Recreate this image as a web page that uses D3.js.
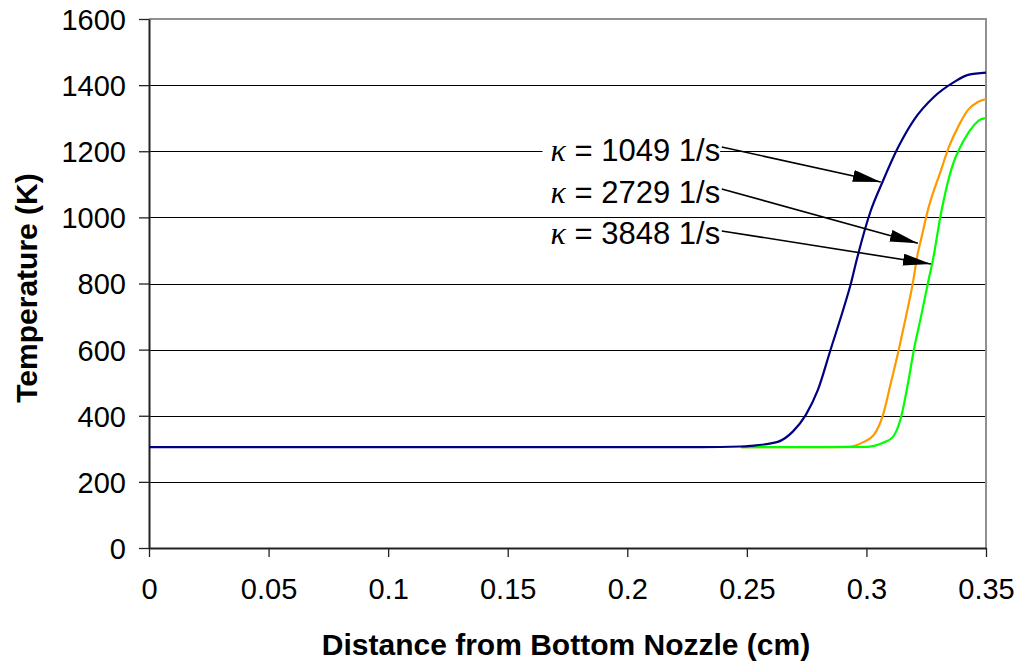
<!DOCTYPE html>
<html>
<head>
<meta charset="utf-8">
<script src="https://cdn.jsdelivr.net/npm/d3@7"></script>
<style>
  body { margin: 0; background: #fff; }
  svg { display: block; font-family: Arial, "Liberation Sans", sans-serif; }
</style>
</head>
<body>
<div id="chart"></div>
<script>
// distance (cm) and temperature (K)
const blueX = [0, 0.1, 0.2, 0.2307, 0.2474, 0.2516, 0.2629, 0.2692, 0.2746, 0.2797, 0.2851, 0.2905, 0.2935, 0.2956, 0.3018, 0.3069, 0.3132, 0.3199, 0.3282, 0.3366, 0.3425, 0.35];
const blueT = [305, 305, 305, 305, 307, 309, 321, 352, 402, 478, 602, 726, 800, 862, 1020, 1110, 1211, 1295, 1364, 1409, 1431, 1438];

const orangeX = [0.2475, 0.28, 0.2922, 0.2989, 0.3031, 0.3069, 0.3102, 0.3136, 0.3165, 0.3194, 0.3215, 0.3228, 0.3257, 0.3312, 0.3345, 0.3387, 0.3425, 0.3466, 0.35];
const orangeT = [305, 305, 306, 321, 342, 402, 499, 602, 699, 801, 892, 932, 1022, 1143, 1213, 1279, 1325, 1349, 1358];

const greenX = [0.2475, 0.28, 0.3006, 0.3069, 0.3111, 0.3145, 0.3174, 0.3199, 0.3228, 0.3257, 0.3278, 0.3312, 0.3354, 0.3408, 0.345, 0.3479, 0.35];
const greenT = [305, 305, 306, 318, 336, 396, 499, 602, 699, 801, 871, 1013, 1143, 1234, 1279, 1297, 1300];

const xTicks = [0, 0.05, 0.1, 0.15, 0.2, 0.25, 0.3, 0.35];
const yTicks = [0, 200, 400, 600, 800, 1000, 1200, 1400, 1600];

// annotation labels: kappa values, arrow tail and head in data units
const kappaLabels = ['1049', '2729', '3848'];
const arrowFrom = [[0.2395, 1213], [0.2395, 1086], [0.2395, 959]];
const arrowTo = [[0.3060, 1107], [0.3215, 922], [0.3270, 859]];

const width = 1022, height = 666;
const margin = {top: 19, right: 36, bottom: 118, left: 149};
const w = width - margin.left - margin.right;
const h = height - margin.top - margin.bottom;

const svg = d3.select('#chart').append('svg')
  .attr('width', width)
  .attr('height', height);

svg.append('defs').append('marker')
  .attr('id', 'arrow')
  .attr('viewBox', '0 0 28 12')
  .attr('refX', 28)
  .attr('refY', 6)
  .attr('markerWidth', 28)
  .attr('markerHeight', 12)
  .attr('markerUnits', 'userSpaceOnUse')
  .attr('orient', 'auto')
  .append('path')
  .attr('d', 'M0,0 L28,6 L0,12 Z')
  .attr('fill', '#000');

const g = svg.append('g')
  .attr('transform', 'translate(' + margin.left + ',' + margin.top + ')');

const x = d3.scaleLinear().domain([0, 0.35]).range([0, w]);
const y = d3.scaleLinear().domain([0, 1600]).range([h, 0]);

// gridlines
g.append('g')
  .selectAll('line')
  .data(yTicks.filter(d => d > 0 && d < 1600))
  .enter()
  .append('line')
  .attr('x1', 0)
  .attr('x2', w)
  .attr('y1', d => Math.round(y(d)) + 0.5)
  .attr('y2', d => Math.round(y(d)) + 0.5)
  .style('stroke', '#000')
  .style('stroke-width', 1);

// top and right border of the plot area
g.append('path')
  .attr('d', 'M0,' + y(1600) + 'H' + w + 'V' + h)
  .style('fill', 'none')
  .style('stroke', '#909090')
  .style('stroke-width', 2);

// x axis
const xAxis = d3.axisBottom(x)
  .tickValues(xTicks)
  .tickFormat(d => String(+d.toFixed(2)))
  .tickSize(9)
  .tickSizeOuter(0)
  .tickPadding(21);

g.append('g')
  .attr('class', 'x axis')
  .attr('transform', 'translate(0,' + h + ')')
  .call(xAxis);

// y axis
const yAxis = d3.axisLeft(y)
  .tickValues(yTicks)
  .tickFormat(d3.format('d'))
  .tickSize(10)
  .tickSizeOuter(0)
  .tickPadding(13);

g.append('g')
  .attr('class', 'y axis')
  .call(yAxis);

g.selectAll('.axis .domain')
  .style('stroke', '#222')
  .style('stroke-width', 2);
g.selectAll('.axis .tick line')
  .style('stroke', '#222')
  .style('stroke-width', 1.3);
g.selectAll('.axis text')
  .style('font-size', '29px')
  .style('fill', '#000');
g.selectAll('.y.axis text').attr('dy', '0.36em');

// series lines
const series = [
  {xs: orangeX, ts: orangeT, color: '#FF9900'},
  {xs: greenX, ts: greenT, color: '#00FF00'},
  {xs: blueX, ts: blueT, color: '#000080'}
];

const lineBuilder = d3.line()
  .x(d => x(d[0]))
  .y(d => y(d[1]))
  .curve(d3.curveMonotoneX);

series.forEach(s => {
  g.append('path')
    .attr('d', lineBuilder(s.xs.map((v, i) => [v, s.ts[i]])))
    .style('fill', 'none')
    .style('stroke', s.color)
    .style('stroke-width', 2.2);
});

// annotation labels with white boxes
const labelX = 0.1679;
const labelBase = [1170, 1044, 918];

kappaLabels.forEach((k, i) => {
  const t = g.append('text')
    .attr('x', x(labelX))
    .attr('y', y(labelBase[i]))
    .style('font-size', '31px');
  t.append('tspan')
    .style('font-family', '"Liberation Serif", "Times New Roman", serif')
    .style('font-style', 'italic')
    .style('font-size', '32px')
    .text('\u03BA');
  t.append('tspan').text(' = ' + k + ' 1/s');
  const bb = t.node().getBBox();
  g.insert('rect', function() { return t.node(); })
    .attr('x', bb.x - 8)
    .attr('y', bb.y + 3)
    .attr('width', bb.width + 8 + (i === 2 ? 16 : 0))
    .attr('height', bb.height - 6)
    .style('fill', '#fff');
});

// arrows
arrowFrom.forEach((a, i) => {
  g.append('line')
    .attr('x1', x(a[0]))
    .attr('y1', y(a[1]))
    .attr('x2', x(arrowTo[i][0]))
    .attr('y2', y(arrowTo[i][1]))
    .style('stroke', '#000')
    .style('stroke-width', 1.6)
    .attr('marker-end', 'url(#arrow)');
});

// axis titles
svg.append('text')
  .attr('x', 566)
  .attr('y', 655)
  .style('text-anchor', 'middle')
  .style('font-size', '30px')
  .style('font-weight', 'bold')
  .text('Distance from Bottom Nozzle (cm)');

svg.append('text')
  .attr('transform', 'translate(37,288) rotate(-90)')
  .style('text-anchor', 'middle')
  .style('font-size', '30px')
  .style('font-weight', 'bold')
  .text('Temperature (K)');
</script>
</body>
</html>
